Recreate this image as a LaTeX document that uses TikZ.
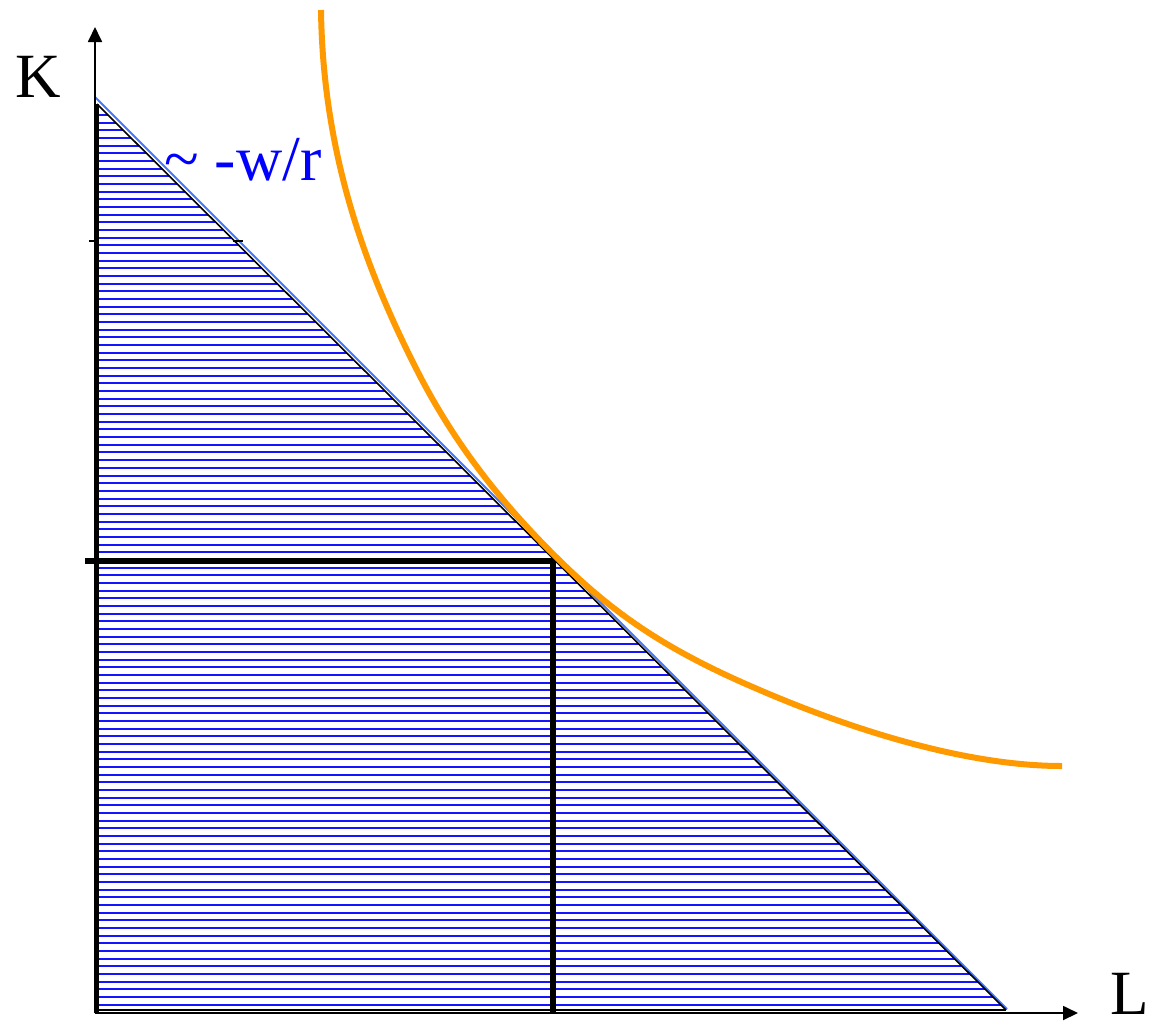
\documentclass[tikz,border=0pt]{standalone}
\usepackage{fontspec}
\setmainfont{Liberation Serif}
\usetikzlibrary{arrows.meta}
\definecolor{isoorange}{RGB}{255,153,0}
\definecolor{hatchblue}{RGB}{20,20,255}
\definecolor{lineblue}{RGB}{70,120,255}
\tikzset{
  hatchline/.style={hatchblue, line width=2pt},
  axisline/.style={black, line width=1.8pt, -{Triangle[length=15pt,width=14pt]}},
  thickline/.style={black, line width=5.5pt},
  isoquant/.style={isoorange, line width=6pt},
  biglabel/.style={font=\fontsize{63}{63}\selectfont, inner sep=0pt, anchor=base},
}
\begin{document}
\begin{tikzpicture}[x=1pt,y=-1pt]
\useasboundingbox (0,0) rectangle (1158,1021);
% coordinates
\coordinate (O) at (95,1013);
\coordinate (Ytop) at (95,27);
\coordinate (Xend) at (1078,1013);
\coordinate (A) at (97,104);
\coordinate (B) at (1006,1010);
\coordinate (C) at (97,1010);
\coordinate (T) at (553,561);
\coordinate (Tl) at (85,561);
\coordinate (Tb) at (553,1013);
\coordinate (P) at (553,554);
% hatching
\begin{scope}
  \clip (A) -- (B) -- (C) -- cycle;
  \foreach \i in {0,...,117} {
    \draw[hatchline] (90,115+7.67*\i) -- (1012,115+7.67*\i);
  }
\end{scope}
% triangle edges
\draw[black, line width=1.3pt] (C) -- (B);
\draw[lineblue, line width=2pt] (95,97) -- (1007,1009);
\draw[black, line width=1.6pt] (A) -- (B);
\draw[black, line width=5pt] (96,104) -- (96,1012);
% axes
\draw[axisline] (O) -- (Ytop);
\draw[axisline] (O) -- (Xend);
% ticks
\draw[black, line width=1.4pt] (89,241) -- (99,241);
\draw[black, line width=1.4pt] (233,241) -- (243,241);
% optimum lines
\draw[thickline] (Tl) -- (T) -- (Tb);
% isoquant
\draw[isoquant] (321,10) .. controls (323,160) and (369,278) .. (422,380)
  .. controls (457,446) and (500,501) .. (P)
  .. controls (610,611) and (662,648) .. (755,688)
  .. controls (845,727) and (962,766) .. (1062,766);
% labels
\node[biglabel] (K) at (38,97) {K};
\node[biglabel] (L) at (1130,1014) {L};
\node[biglabel, anchor=base west, blue, font=\fontsize{64}{64}\selectfont] (slope) at (164,180) {\textasciitilde{} -w/r};
\end{tikzpicture}
\end{document}
